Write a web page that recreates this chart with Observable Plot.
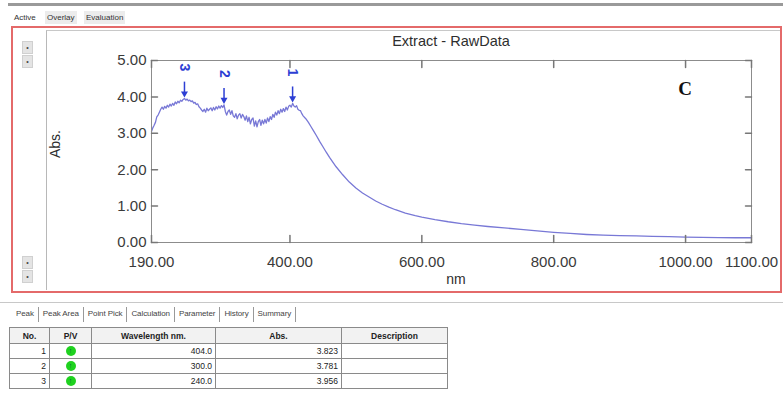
<!DOCTYPE html>
<html><head><meta charset="utf-8">
<script src="https://cdn.jsdelivr.net/npm/d3@7"></script>
<script src="https://cdn.jsdelivr.net/npm/@observablehq/plot@0.6"></script>
<style>
html,body{margin:0;padding:0;background:#fff;}
body{width:783px;height:396px;position:relative;overflow:hidden;font-family:"Liberation Sans",Arial,sans-serif;color:#333;}
.abs{position:absolute;}
#topbar{left:8px;top:3px;width:775px;height:3px;background:#9a9a9a;}
.ttab{top:11px;height:13px;font-size:8px;line-height:13px;padding:0 2px;color:#333;}
#panel{left:11px;top:26px;width:767px;height:263px;border:2px solid #e46a6a;}
#inner{left:46px;top:30px;width:733px;height:259px;border-left:1px solid #b8b8b8;border-top:1px solid #c8c8c8;}
.btn{width:9px;height:11px;background:#e4e4e4;border:1px solid #d0d0d0;font-size:7px;line-height:11px;text-align:center;color:#444;}
#chart{left:0;top:0;}
#title{left:351px;top:33px;width:200px;text-align:center;font-size:14.5px;color:#2e2e2e;}
#ylab{left:30px;top:136px;width:50px;text-align:center;font-size:14px;color:#2e2e2e;transform:rotate(-90deg);}
#xlab{left:431px;top:271px;width:50px;text-align:center;font-size:14px;color:#2e2e2e;}
#clab{left:670px;top:78px;width:30px;text-align:center;font-family:"Liberation Serif","Times New Roman",serif;font-weight:bold;font-size:19px;color:#111;}
#sep{left:0;top:302px;width:783px;height:1px;background:#c8c8c8;}
#btabs{position:absolute;left:12px;top:306px;height:16px;display:flex;align-items:center;font-size:8px;color:#444;letter-spacing:-0.1px;}
#btabs .t{padding:0 4px;line-height:16px;}
#btabs .s{width:1px;height:15px;background:#999;}
table{position:absolute;left:9px;top:327px;border-collapse:collapse;font-size:8.5px;color:#222;}
td,th{border:1px solid #8a8a8a;height:14px;padding:0 3px;}
th{background:#f2f2f2;font-weight:bold;height:15px;}
td.n{text-align:right;}
td.pv{text-align:center;}
.g{display:inline-block;width:10px;height:10px;border-radius:50%;background:#1fd21f;font-size:7px;line-height:10px;color:#064;text-align:center;vertical-align:middle;}
</style></head>
<body>
<div id="topbar" class="abs"></div>
<div class="abs ttab" style="left:12px;background:#fff;">Active</div>
<div class="abs ttab" style="left:45px;background:#ececec;">Overlay</div>
<div class="abs ttab" style="left:84px;background:#ececec;">Evaluation</div>
<div id="panel" class="abs"></div>
<div id="inner" class="abs"></div>
<div class="abs btn" style="left:22px;top:41px;">•</div>
<div class="abs btn" style="left:22px;top:55px;">•</div>
<div class="abs btn" style="left:22px;top:256px;">•</div>
<div class="abs btn" style="left:22px;top:270px;">•</div>
<div id="chart" class="abs"></div>
<div id="title" class="abs">Extract - RawData</div>
<div id="ylab" class="abs">Abs.</div>
<div id="xlab" class="abs">nm</div>
<div id="clab" class="abs">C</div>
<div id="sep" class="abs"></div>
<div id="btabs"></div>
<table id="tbl"></table>
<script>
// ---- spectrum data ----
const wavelengths = [190,192,194,196,198,200,202,204,206,208,210,212,214,216,218,220,222,224,226,228,230,232,234,236,238,240,242,244,246,248,250,252,254,256,258,260,262,264,266,268,270,272,274,276,278,280,282,284,286,288,290,292,294,296,298,300,302,304,306,308,310,312,314,316,318,320,322,324,326,328,330,332,334,336,338,340,342,344,346,348,350,352,354,356,358,360,362,364,366,368,370,372,374,376,378,380,382,384,386,388,390,392,394,396,398,400,402,404,406,408,410,412,414,416,418,420,424,428,432,436,440,445,450,455,460,470,480,490,500,510,520,530,540,550,560,575,590,600,620,640,660,680,700,725,750,775,800,825,850,875,900,925,950,975,1000,1025,1050,1075,1100];
const absorbance = [3.05,3.15,3.22,3.30,3.45,3.50,3.58,3.66,3.72,3.66,3.74,3.69,3.77,3.72,3.80,3.75,3.82,3.77,3.86,3.81,3.88,3.84,3.91,3.88,3.93,3.956,3.91,3.94,3.89,3.91,3.87,3.89,3.83,3.85,3.79,3.81,3.73,3.69,3.64,3.60,3.66,3.58,3.69,3.62,3.66,3.70,3.62,3.71,3.64,3.73,3.67,3.75,3.69,3.76,3.71,3.781,3.60,3.50,3.60,3.64,3.52,3.62,3.48,3.44,3.54,3.40,3.50,3.54,3.42,3.52,3.46,3.36,3.48,3.32,3.44,3.26,3.38,3.42,3.20,3.34,3.18,3.32,3.38,3.22,3.36,3.26,3.38,3.28,3.42,3.32,3.46,3.38,3.52,3.44,3.58,3.50,3.62,3.54,3.66,3.58,3.68,3.60,3.72,3.64,3.74,3.77,3.72,3.823,3.75,3.72,3.76,3.66,3.63,3.62,3.54,3.48,3.40,3.30,3.18,3.06,2.94,2.78,2.63,2.48,2.34,2.08,1.86,1.66,1.50,1.36,1.25,1.14,1.05,0.97,0.90,0.81,0.74,0.70,0.63,0.57,0.52,0.48,0.44,0.40,0.36,0.32,0.28,0.25,0.22,0.20,0.19,0.18,0.17,0.16,0.15,0.14,0.135,0.13,0.13];

// ---- peaks ----
const peakNo = [1,2,3];
const peakWl = [404.0,300.0,240.0];
const peakAbs = [3.823,3.781,3.956];

// ---- ticks ----
const xTicks = [190,400,600,800,1000,1100];
const yTicks = [0,1,2,3,4,5];

// ---- bottom tabs ----
const bottomTabs = ["Peak","Peak Area","Point Pick","Calculation","Parameter","History","Summary"];
const tableHeader = ["No.","P/V","Wavelength nm.","Abs.","Description"];

const spec = wavelengths.map((w,i)=>({wl:w, abs:absorbance[i]}));
const peaks = peakNo.map((n,i)=>({no:n, wl:peakWl[i], abs:peakAbs[i]}));

const tickShape = {draw(ctx, l){ ctx.moveTo(0,0); ctx.lineTo(0,-l); }};
const fmt = d3.format(".2f");
const blue = "#2d3fd4";

const chart = Plot.plot({
  width: 783, height: 290,
  marginLeft: 151, marginRight: 32, marginTop: 60, marginBottom: 48,
  x: {domain: [190,1100]},
  y: {domain: [0,5]},
  style: {fontFamily: "Liberation Sans, Arial, sans-serif", background: "transparent", color: "#3a3a3a"},
  marks: [
    Plot.line(spec, {x: "wl", y: "abs", stroke: "#7878d6", strokeWidth: 1.3}),
    Plot.frame({stroke: "#8c8c8c"}),
    Plot.axisX({ticks: xTicks, tickFormat: fmt, tickSize: 0, tickPadding: 14, fontSize: 15, label: null}),
    Plot.axisY({ticks: yTicks, tickFormat: fmt, tickSize: 0, tickPadding: 5, fontSize: 15, label: null}),
    Plot.vector(yTicks, {x: 190, y: d=>d, length: 6, rotate: 90, anchor: "start", shape: tickShape, stroke: "#777"}),
    Plot.vector(yTicks, {x: 1100, y: d=>d, length: 6, rotate: -90, anchor: "start", shape: tickShape, stroke: "#777"}),
    Plot.vector(xTicks, {x: d=>d, y: 0, length: 7, rotate: 0, anchor: "start", shape: tickShape, stroke: "#777"}),
    Plot.vector(xTicks, {x: d=>d, y: 5, length: 7, rotate: 180, anchor: "start", shape: tickShape, stroke: "#777"}),
    Plot.ruleX(peaks, {x: "wl", y1: d=>d.abs+0.45, y2: "abs", insetBottom: 4, stroke: blue, strokeWidth: 1.5}),
    Plot.dot(peaks, {x: "wl", y: "abs", symbol: "triangle", rotate: 180, r: 2.6, fill: blue, dy: -5}),
    Plot.text(peaks, {x: "wl", y: "abs", text: d=>String(d.no), rotate: 90, dy: -31, fill: blue, fontSize: 14, fontWeight: "bold"})
  ]
});
document.getElementById("chart").appendChild(chart);

// bottom tabs
const btabs = document.getElementById("btabs");
bottomTabs.forEach((t,i)=>{
  const d = document.createElement("div");
  d.className = "t"; d.textContent = t;
  btabs.appendChild(d);
  const s = document.createElement("div");
  s.className = "s";
  btabs.appendChild(s);
});

// table
const tbl = document.getElementById("tbl");
const colW = [33,35,117,119,99];
let html = "<tr>"+tableHeader.map((h,i)=>`<th style="width:${colW[i]}px">${h}</th>`).join("")+"</tr>";
peaks.forEach(p=>{
  html += `<tr><td class="n">${p.no}</td><td class="pv"><span class="g">↑</span></td><td class="n">${p.wl.toFixed(1)}</td><td class="n">${p.abs.toFixed(3)}</td><td></td></tr>`;
});
tbl.innerHTML = html;
</script>
</body></html>
